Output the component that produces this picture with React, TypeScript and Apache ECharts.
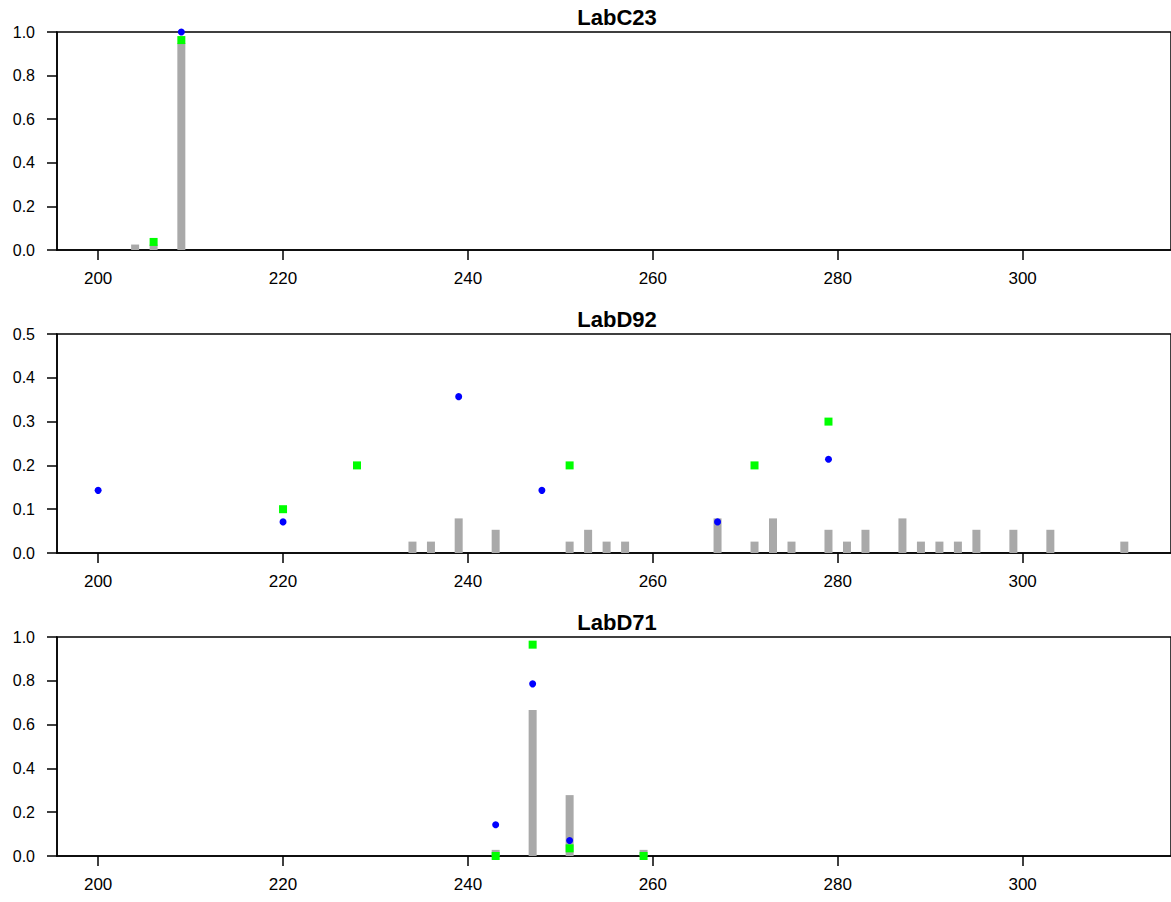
import React, { useEffect, useRef } from "react";
import * as echarts from "echarts";

// Panel titles
const titles = ["LabC23", "LabD92", "LabD71"];

// X tick labels shared by all panels
const xTicks = [200, 220, 240, 260, 280, 300];

// Panel 1: LabC23
const barsX1 = [204, 206, 209];
const barsY1 = [0.025, 0.025, 0.95];
const blueX1 = [209];
const blueY1 = [1.0];
const greenX1 = [206, 209];
const greenY1 = [0.037, 0.963];

// Panel 2: LabD92
const barsX2 = [234, 236, 239, 243, 251, 253, 255, 257, 267, 271, 273, 275, 279, 281, 283, 287, 289, 291, 293, 295, 299, 303, 311];
const barsY2 = [0.026, 0.026, 0.079, 0.053, 0.026, 0.053, 0.026, 0.026, 0.079, 0.026, 0.079, 0.026, 0.053, 0.026, 0.053, 0.079, 0.026, 0.026, 0.026, 0.053, 0.053, 0.053, 0.026];
const blueX2 = [200, 220, 239, 248, 267, 279];
const blueY2 = [0.143, 0.071, 0.357, 0.143, 0.071, 0.214];
const greenX2 = [220, 228, 251, 271, 279];
const greenY2 = [0.1, 0.2, 0.2, 0.2, 0.3];

// Panel 3: LabD71
const barsX3 = [243, 247, 251, 259];
const barsY3 = [0.028, 0.667, 0.278, 0.028];
const blueX3 = [243, 247, 251];
const blueY3 = [0.143, 0.786, 0.071];
const greenX3 = [243, 247, 251, 259];
const greenY3 = [0, 0.965, 0.035, 0];

// Y axis ranges
const yMax = [1.0, 0.5, 1.0];
const yStep = [0.2, 0.1, 0.2];

const panels = [
  { bx: barsX1, by: barsY1, ux: blueX1, uy: blueY1, gx: greenX1, gy: greenY1 },
  { bx: barsX2, by: barsY2, ux: blueX2, uy: blueY2, gx: greenX2, gy: greenY2 },
  { bx: barsX3, by: barsY3, ux: blueX3, uy: blueY3, gx: greenX3, gy: greenY3 },
];

const zip = (xs: number[], ys: number[]) => xs.map((x, i) => [x, ys[i]]);

const FONT = '"Liberation Sans", Arial, Helvetica, sans-serif';
const gridTops = [32, 334, 637];
const gridH = [218, 219, 219];
const LEFT = 57;
const RIGHT = -2;
const XMIN = 195.55;
const XMAX = 316.05;

export default function App() {
  const ref = useRef<HTMLDivElement>(null);
  useEffect(() => {
    if (!ref.current) return;
    const chart = echarts.init(ref.current, undefined, { renderer: "svg" });
    const grid = gridTops.map((t, i) => ({
      left: LEFT,
      right: RIGHT,
      top: t,
      height: gridH[i],
      show: true,
      borderColor: "#000",
      borderWidth: 1.5,
      backgroundColor: "transparent",
      containLabel: false,
    }));
    const xAxis = gridTops.map((_, i) => ({
      type: "value",
      gridIndex: i,
      min: XMIN,
      max: XMAX,
      axisLine: { show: true, onZero: false, lineStyle: { color: "#000", width: 1.5 } },
      axisTick: { show: true, length: 10, customValues: xTicks, lineStyle: { color: "#000", width: 1.5 } },
      axisLabel: { show: true, customValues: xTicks, margin: 20, color: "#000", fontSize: 17, fontFamily: FONT },
      splitLine: { show: false },
    }));
    const yAxis = gridTops.map((_, i) => ({
      type: "value",
      gridIndex: i,
      min: 0,
      max: yMax[i],
      interval: yStep[i],
      axisLine: { show: true, lineStyle: { color: "#000", width: 1.5 } },
      axisTick: { show: true, length: 10, lineStyle: { color: "#000", width: 1.5 } },
      axisLabel: {
        show: true,
        margin: 22,
        color: "#000",
        fontSize: 16,
        fontFamily: FONT,
        formatter: (v: number) => v.toFixed(1),
      },
      splitLine: { show: false },
    }));
    const series: any[] = [];
    panels.forEach((p, i) => {
      series.push({
        type: "bar",
        xAxisIndex: i,
        yAxisIndex: i,
        data: zip(p.bx, p.by),
        barWidth: 8,
        itemStyle: { color: "#A9A9A9", opacity: 1 },
        z: 1,
      });
      series.push({
        type: "scatter",
        xAxisIndex: i,
        yAxisIndex: i,
        data: zip(p.ux, p.uy),
        symbol: "circle",
        symbolSize: 7,
        itemStyle: { color: "#0000FF", opacity: 1 },
        clip: false,
        z: 3,
      });
      series.push({
        type: "scatter",
        xAxisIndex: i,
        yAxisIndex: i,
        data: zip(p.gx, p.gy),
        symbol: "rect",
        symbolSize: 8,
        itemStyle: { color: "#00FF00", opacity: 1 },
        clip: false,
        z: 4,
      });
    });
    const graphic = titles.map((t, i) => ({
      type: "text",
      x: 617,
      y: gridTops[i] - 14.5,
      style: {
        text: t,
        font: `bold 22px ${FONT}`,
        align: "center",
        verticalAlign: "middle",
        fill: "#000",
      },
    }));
    chart.setOption({
      animation: false,
      backgroundColor: "#fff",
      grid,
      xAxis,
      yAxis,
      series,
      graphic,
    });
    return () => chart.dispose();
  }, []);
  return (
    <div
      ref={ref}
      style={{ position: "fixed", left: 0, top: 0, width: 1171, height: 902 }}
    />
  );
}
